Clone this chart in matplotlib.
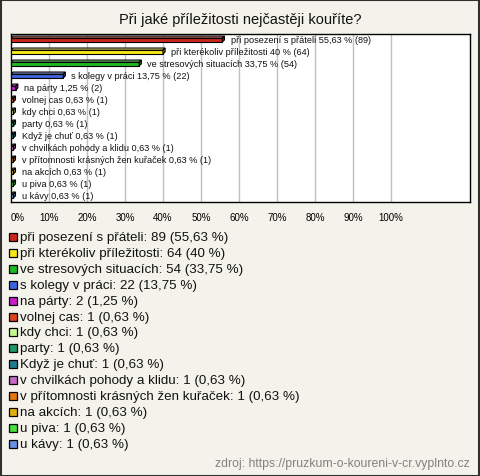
import matplotlib
matplotlib.use("Agg")
import matplotlib.pyplot as plt
from matplotlib.patches import Polygon, Rectangle

plt.rcParams['font.family'] = ['Liberation Sans', 'DejaVu Sans']

title = "Při jaké příležitosti nejčastěji kouříte?"
categories = [
    "při posezení s přáteli", "při kterékoliv příležitosti", "ve stresových situacích",
    "s kolegy v práci", "na párty", "volnej cas", "kdy chci", "party", "Když je chuť",
    "v chvilkách pohody a klidu", "v přítomnosti krásných žen kuřaček", "na akcích",
    "u piva", "u kávy",
]
counts = [89, 64, 54, 22, 2, 1, 1, 1, 1, 1, 1, 1, 1, 1]
percents = [55.63, 40, 33.75, 13.75, 1.25, 0.63, 0.63, 0.63, 0.63, 0.63, 0.63, 0.63, 0.63, 0.63]
colors = ["#c8281c", "#f8e818", "#20b820", "#3c64dc", "#c81cc8", "#d8441c", "#c8f890",
          "#209868", "#207c90", "#c868c8", "#e07810", "#e0b010", "#48e040", "#6890e0"]
xticks = [0, 10, 20, 30, 40, 50, 60, 70, 80, 90, 100]
source = "zdroj: https://pruzkum-o-koureni-v-cr.vyplnto.cz"

def fmt(p):
    s = ("%.2f" % p).rstrip("0").rstrip(".")
    return s.replace(".", ",")

def darker(c, f=0.6):
    r, g, b = matplotlib.colors.to_rgb(c)
    return (r * f, g * f, b * f)

def lighter(c, f=0.45):
    r, g, b = matplotlib.colors.to_rgb(c)
    return (r + (1 - r) * f, g + (1 - g) * f, b + (1 - b) * f)

W, H = 480, 477
bg = "#f4f3eb"
fig = plt.figure(figsize=(W / 100, H / 100), dpi=100, facecolor=bg)

# outer frame
fig.patches.append(Rectangle((0.5 / W, 0.5 / H), 1 - 1.5 / W, 1 - 1.5 / H,
                             transform=fig.transFigure, fill=False,
                             edgecolor="#303030", linewidth=1.5))

fig.text(0.5, 1 - 20 / H, title, ha="center", va="center", fontsize=10.5, color="#111111")

ax = fig.add_axes([11 / W, 1 - 203 / H, (470 - 11) / W, (203 - 35) / H])
ax.set_facecolor("white")
n = len(categories)
ax.set_xlim(0, 120.8)
ax.set_ylim(n - 0.5, -0.5)
for x in xticks[1:]:
    ax.axvline(x, color="#c0c0c0", linewidth=1, zorder=0)
ax.set_yticks([])
ax.set_xticks(xticks)
ax.set_xticklabels(["%d%%" % t for t in xticks], fontsize=7)
ax.get_xticklabels()[0].set_ha("left")
ax.tick_params(axis="x", length=0, pad=7)
for s in ax.spines.values():
    s.set_color("black")
    s.set_linewidth(1)

h = 0.32
dy = 0.17
dx = 0.55
ax.barh(range(n), percents, height=h, color=colors, edgecolor="black",
        linewidth=0.8, zorder=3)
for i, (p, c) in enumerate(zip(percents, colors)):
    top = i - h / 2
    ax.add_patch(Polygon([(0, top), (p, top), (p + dx, top - dy), (dx, top - dy)],
                         closed=True, facecolor=lighter(c), edgecolor="black",
                         linewidth=0.8, zorder=3))
    ax.add_patch(Polygon([(p, top), (p, top + h), (p + dx, top + h - dy), (p + dx, top - dy)],
                         closed=True, facecolor=darker(c), edgecolor="black",
                         linewidth=0.8, zorder=3))
    ax.text(p + dx + 1.6, i - 0.05, "%s %s %% (%d)" % (categories[i], fmt(p), counts[i]),
            va="center", ha="left", fontsize=6.6, color="#111111", zorder=4)

# legend
y0 = 238
step = 15.9
for i, (cat, cnt, p, c) in enumerate(zip(categories, counts, percents, colors)):
    yc = y0 + i * step
    fig.patches.append(Rectangle((8.5 / W, 1 - (yc + 4) / H), 8 / W, 8 / H,
                                 transform=fig.transFigure, facecolor=c,
                                 edgecolor="black", linewidth=0.9))
    fig.text(20 / W, 1 - yc / H, "%s: %d (%s %%)" % (cat, cnt, fmt(p)),
             ha="left", va="center", fontsize=9.6, color="#111111")

fig.text(470 / W, 1 - 464 / H, source, ha="right", va="center", fontsize=8.8, color="#808080")

fig.savefig("out.png", dpi=100, facecolor=bg)
